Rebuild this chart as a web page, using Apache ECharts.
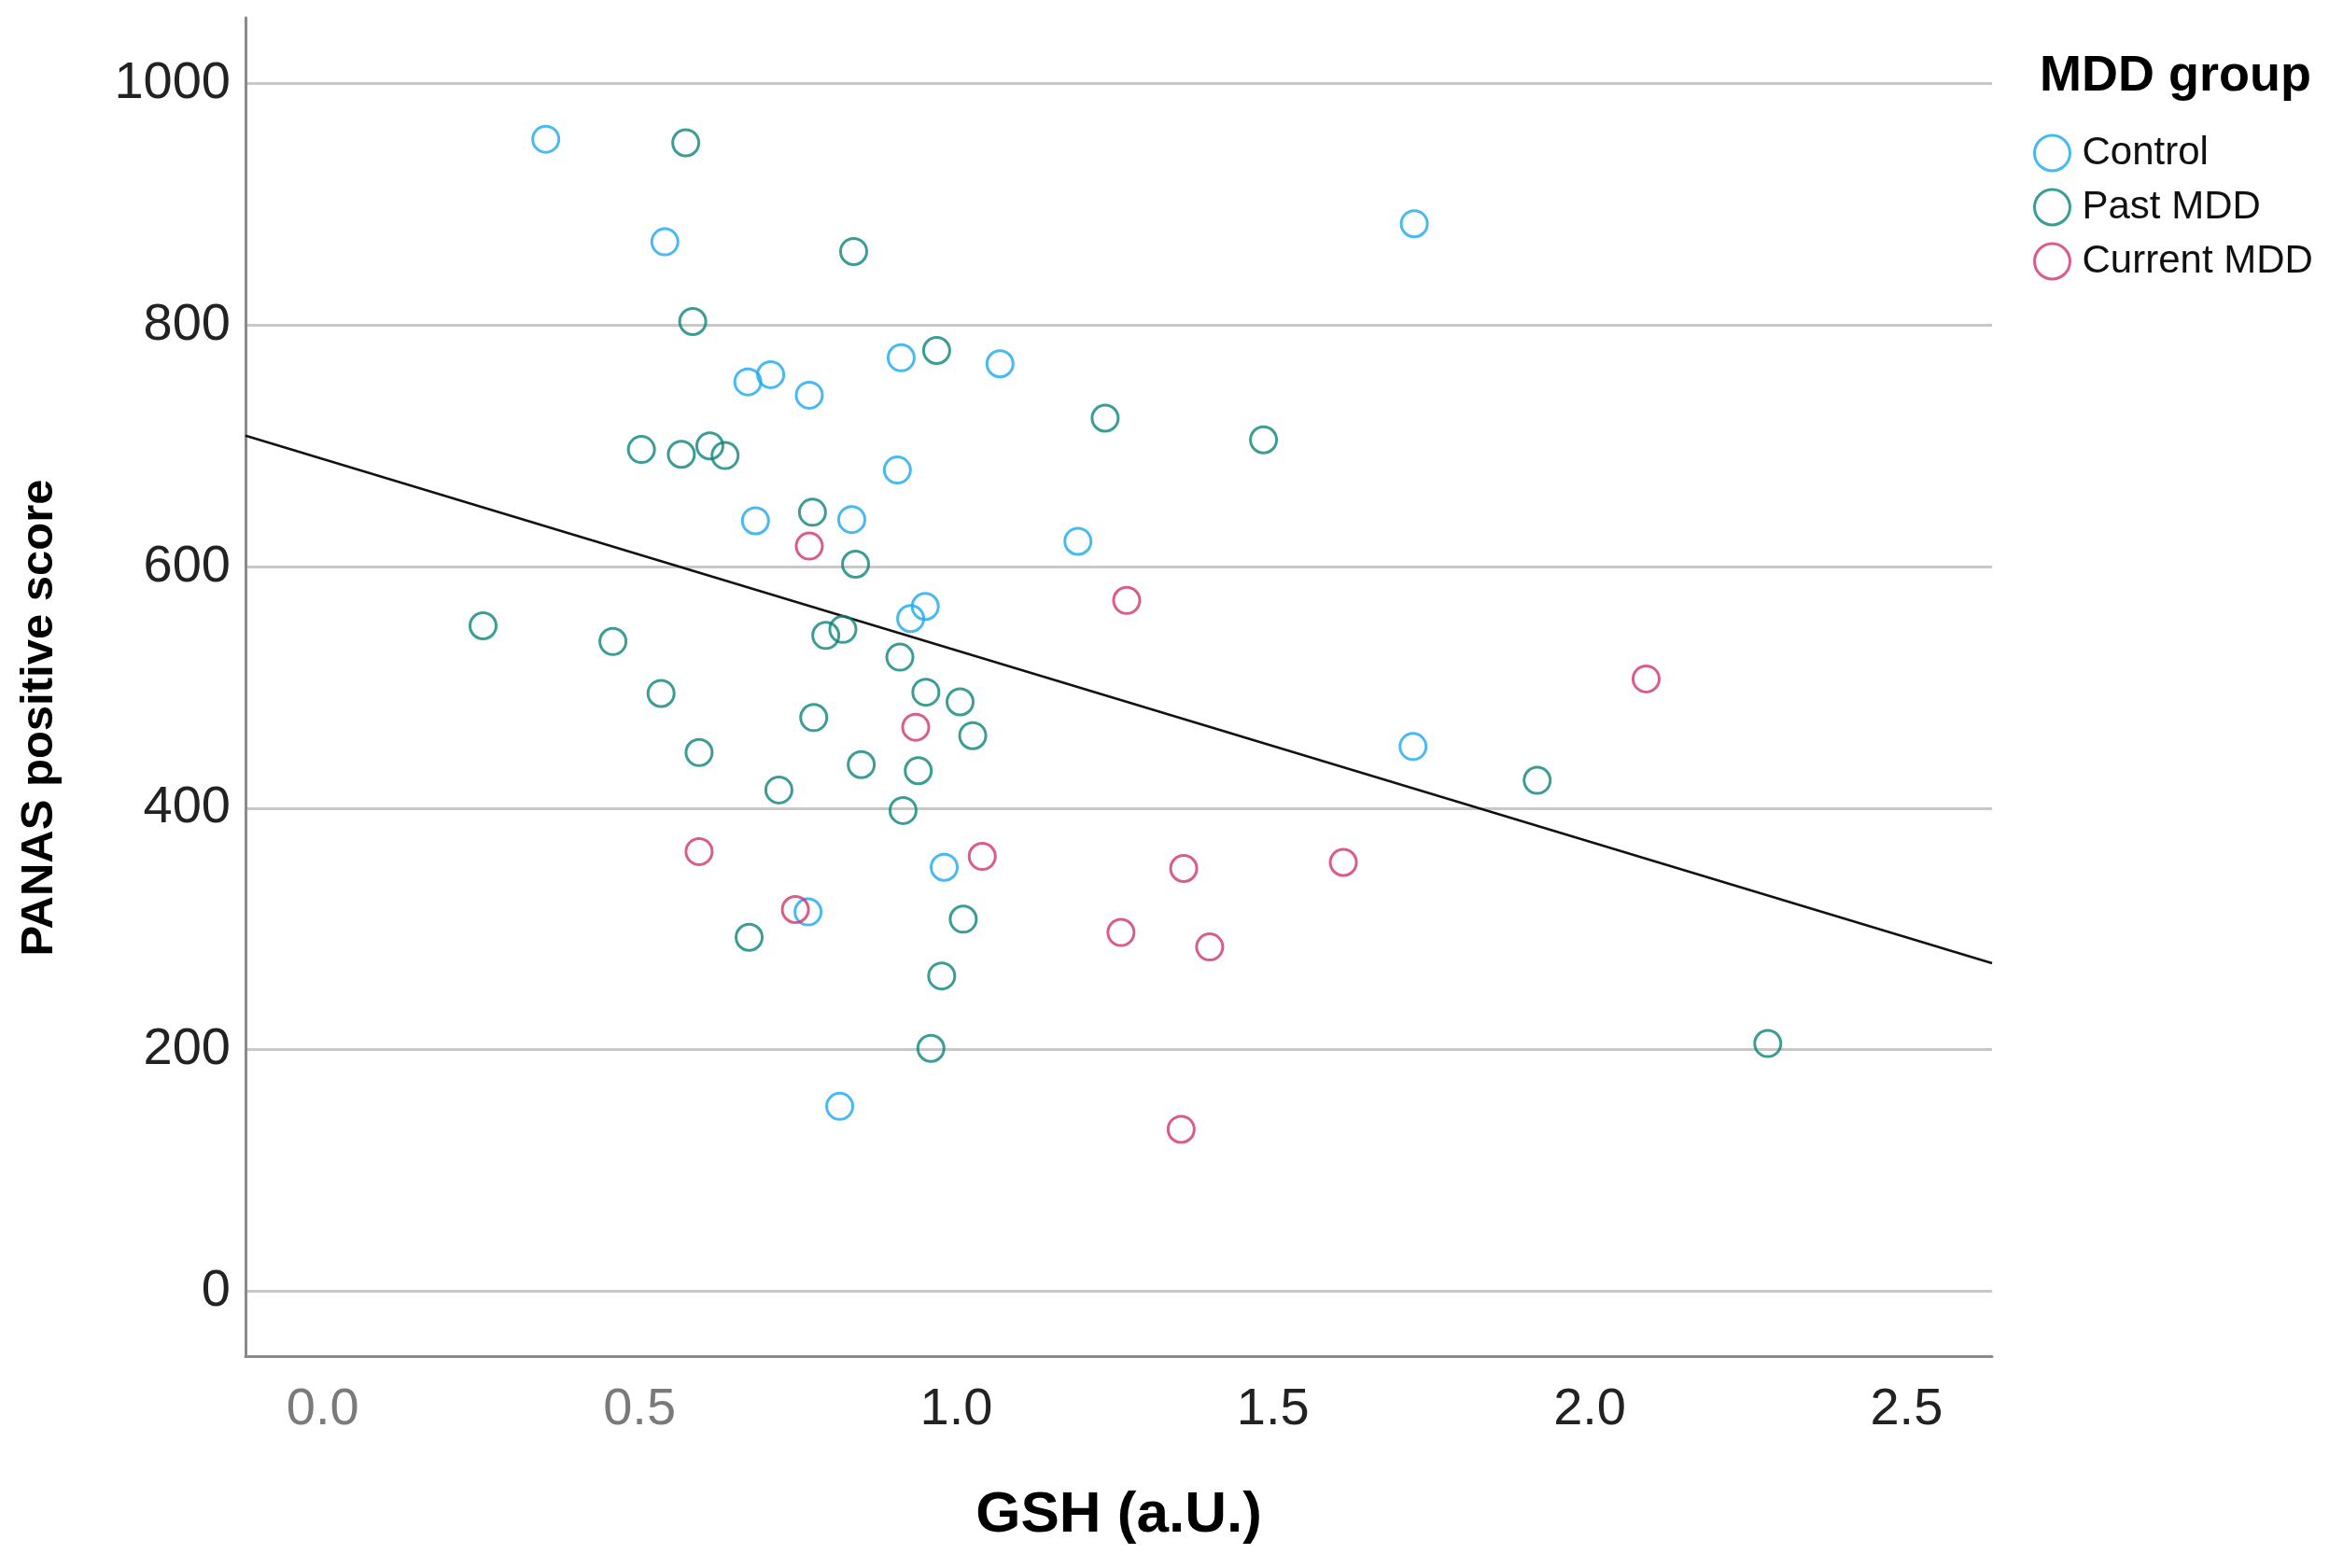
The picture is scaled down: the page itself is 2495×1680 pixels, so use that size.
<!DOCTYPE html>
<html>
<head>
<meta charset="utf-8">
<script src="https://cdn.jsdelivr.net/npm/echarts@6/dist/echarts.min.js"></script>
<style>
html,body{margin:0;padding:0;background:#fff;}
#chart{width:2495px;height:1680px;}
</style>
</head>
<body>
<div id="chart"></div>
<script>
// ---- Data (GSH, PANAS positive score) ----
const groupNames = ['Control', 'Past MDD', 'Current MDD'];

const controlData = [
  [0.352, 954], [0.540, 869], [1.723, 884], [0.671, 753], [0.707, 759],
  [0.768, 742], [0.913, 773], [1.069, 768], [0.907, 680], [0.683, 638],
  [0.835, 639], [1.192, 621], [0.928, 557], [0.951, 567], [1.721, 451],
  [0.981, 351], [0.766, 314], [0.816, 153]
];

const pastMddData = [
  [0.573, 951], [0.838, 861], [0.584, 803], [0.969, 779], [1.235, 723],
  [1.485, 705], [0.503, 697], [0.566, 693], [0.611, 700], [0.635, 692],
  [0.773, 645], [0.841, 602], [0.253, 551], [0.458, 538], [0.794, 543],
  [0.821, 548], [0.911, 525], [0.534, 495], [0.952, 496], [1.006, 488],
  [0.775, 475], [1.026, 460], [0.594, 446], [0.850, 436], [0.940, 431],
  [0.720, 415], [0.916, 398], [1.917, 423], [1.011, 308], [0.673, 293],
  [0.977, 261], [0.960, 201], [2.281, 205]
];

const currentMddData = [
  [0.768, 617], [1.269, 572], [2.089, 507], [0.936, 467], [0.594, 364],
  [1.041, 360], [0.746, 316], [1.359, 350], [1.611, 355], [1.260, 297],
  [1.400, 285], [1.355, 134]
];

// Fit line (total): y = intercept + slope * x
const fitIntercept = 689.2;
const fitSlope = -158.5;

// Axis ranges
const xMin = -0.122, xMax = 2.635;
const yMin = -53.9, yMax = 1054.6;

const groupColors = ['#1BA8EE', '#0B837C', '#D0356F'];

const fitLine = [
  [xMin, fitIntercept + fitSlope * xMin],
  [xMax, fitIntercept + fitSlope * xMax]
];

const chart = echarts.init(document.getElementById('chart'), null, {renderer: 'canvas'});

function scatterSeries(name, data, color) {
  return {
    name: name,
    type: 'scatter',
    data: data,
    symbol: 'circle',
    symbolSize: 28,
    itemStyle: { color: 'rgba(255,255,255,0)', borderColor: color, borderWidth: 3 },
    emphasis: { disabled: true },
    z: 3
  };
}

const option = {
  backgroundColor: '#ffffff',
  animation: false,
  title: {
    text: 'MDD group',
    left: 2180,
    top: 50,
    textStyle: { fontFamily: 'Liberation Sans, Arial, sans-serif', fontWeight: 'bold', fontSize: 54, color: '#000' }
  },
  legend: {
    data: groupNames,
    orient: 'vertical',
    left: 2173,
    top: 138,
    itemWidth: 38,
    itemHeight: 38,
    itemGap: 16,
    icon: 'circle',
    itemStyle: { color: 'rgba(255,255,255,0)', borderWidth: 3 },
    textStyle: { fontFamily: 'Liberation Sans, Arial, sans-serif', fontSize: 42, color: '#111', padding: [0, 0, 0, 8] },
    selectedMode: false
  },
  grid: { left: 263, right: 361, top: 19, bottom: 227, containLabel: false },
  xAxis: {
    type: 'value',
    min: xMin,
    max: xMax,
    splitNumber: 5,
    name: 'GSH (a.U.)',
    nameLocation: 'middle',
    nameGap: 140,
    nameTextStyle: { fontFamily: 'Liberation Sans, Arial, sans-serif', fontWeight: 'bold', fontSize: 62, color: '#000' },
    axisLine: { show: true, onZero: false, lineStyle: { color: '#8a8a8a', width: 3 } },
    axisTick: { show: false },
    splitLine: { show: false },
    axisLabel: {
      showMinLabel: false,
      showMaxLabel: false,
      margin: 30,
      fontFamily: 'Liberation Sans, Arial, sans-serif',
      fontSize: 56,
      color: '#222',
      formatter: function (v) {
        const s = v.toFixed(1);
        return v < 0.75 ? '{g|' + s + '}' : s;
      },
      rich: {
        g: { fontFamily: 'Liberation Sans, Arial, sans-serif', fontSize: 56, color: '#7a7a7a' }
      }
    }
  },
  yAxis: {
    type: 'value',
    min: yMin,
    max: yMax,
    splitNumber: 5,
    name: 'PANAS positive score',
    nameLocation: 'middle',
    nameGap: 196,
    nameRotate: 90,
    nameTextStyle: {
      fontFamily: 'Liberation Sans, Arial, sans-serif',
      fontWeight: 'bold', fontSize: 49, color: '#000',
      padding: [0, 66, 0, 0]
    },
    axisLine: { show: true, onZero: false, lineStyle: { color: '#8a8a8a', width: 3 } },
    axisTick: { show: false },
    splitLine: { show: true, showMinLine: false, showMaxLine: false, lineStyle: { color: '#c8c8c8', width: 3 } },
    axisLabel: {
      showMinLabel: false,
      showMaxLabel: false,
      margin: 16,
      padding: [12, 0, 0, 0],
      fontFamily: 'Liberation Sans, Arial, sans-serif',
      fontSize: 56,
      color: '#222',
      formatter: function (v) { return String(Math.round(v)); }
    }
  },
  series: [
    scatterSeries(groupNames[0], controlData, groupColors[0]),
    scatterSeries(groupNames[1], pastMddData, groupColors[1]),
    scatterSeries(groupNames[2], currentMddData, groupColors[2]),
    {
      name: 'Fit line',
      type: 'line',
      data: fitLine,
      symbol: 'none',
      lineStyle: { color: '#111', width: 2.5 },
      emphasis: { disabled: true },
      silent: true,
      z: 2
    }
  ]
};

chart.setOption(option);
</script>
</body>
</html>
